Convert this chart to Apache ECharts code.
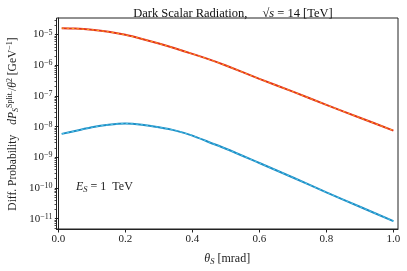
<!DOCTYPE html>
<html>
<head>
<meta charset="utf-8">
<script src="https://cdn.jsdelivr.net/npm/echarts@6/dist/echarts.min.js"></script>
<style>html,body{margin:0;padding:0;background:#fff}#c{width:407px;height:271px}</style>
</head>
<body>
<div id="c"></div>
<script>
// theta_S [mrad]
const thetaS = [0.01, 0.05, 0.1, 0.15, 0.2, 0.25, 0.3, 0.35, 0.4, 0.45, 0.5, 0.6, 0.7, 0.8, 0.9, 1.0];
// upper curve (red solid + orange dashed)
const upperVals = [1.62e-5, 1.57e-5, 1.43e-5, 1.23e-5, 9.8e-6, 7.2e-6, 5.1e-6, 3.5e-6, 2.35e-6, 1.55e-6, 9.8e-7, 3.6e-7, 1.38e-7, 5.1e-8, 1.95e-8, 7.4e-9];
// lower curve (blue solid + light blue dashed)
const lowerVals = [5.8e-9, 7.2e-9, 9.5e-9, 1.15e-8, 1.26e-8, 1.15e-8, 9.5e-9, 7.4e-9, 5.1e-9, 3.1e-9, 1.9e-9, 6.5e-10, 2.2e-10, 7.2e-11, 2.45e-11, 8.3e-12];
// tick labels
const xTicks = [0.0, 0.2, 0.4, 0.6, 0.8, 1.0];
const yExponents = [-11, -10, -9, -8, -7, -6, -5];

const yMajor = yExponents.map(e => Math.pow(10, e));
const yMinor = [];
for (let e = -12; e <= -5; e++) {
  for (let m = 2; m <= 9; m++) {
    const v = m * Math.pow(10, e);
    if (v > 4.6e-12 && v < 3.47e-5) yMinor.push(v);
  }
}
const pairs = vals => thetaS.map((x, i) => [x, vals[i]]);

const serif = 'Liberation Serif';
const chart = echarts.init(document.getElementById('c'), null, {renderer: 'canvas'});
const sup = {fontFamily: serif, fontSize: 8, verticalAlign: 'top', lineHeight: 12, color: '#222'};
chart.setOption({
  animation: false,
  backgroundColor: '#fff',
  title: {
    text: '{a|Dark Scalar Radiation,}   {a|√}{i|s}{a| = 14 [TeV]}',
    left: 228, top: 0, textAlign: 'center',
    textStyle: {
      fontWeight: 'normal',
      rich: {
        a: {fontFamily: serif, fontSize: 12.5, fontWeight: 'normal', color: '#111'},
        i: {fontFamily: serif, fontSize: 12.5, fontWeight: 'normal', fontStyle: 'italic', color: '#111'}
      }
    }
  },
  grid: {left: 56.5, right: 9, top: 18, bottom: 37, show: true, borderColor: '#222', borderWidth: 1, containLabel: false},
  xAxis: {
    type: 'value', min: -0.0055, max: 1.0137,
    axisLine: {show: true, lineStyle: {color: '#222', width: 1}},
    splitLine: {show: false},
    axisTick: {show: true, inside: false, length: 3.5, lineStyle: {color: '#222'}, customValues: xTicks},
    axisLabel: {customValues: xTicks, formatter: v => v.toFixed(1), fontFamily: serif, fontSize: 11, color: '#222', margin: 5},
    name: '{i|θ}{s|S}{a| [mrad]}', nameLocation: 'middle', nameGap: 22,
    nameTextStyle: {rich: {
      a: {fontFamily: serif, fontSize: 12, color: '#222'},
      i: {fontFamily: serif, fontSize: 12, fontStyle: 'italic', color: '#222'},
      s: {fontFamily: serif, fontSize: 8.5, fontStyle: 'italic', color: '#222', verticalAlign: 'bottom', lineHeight: 15}
    }}
  },
  yAxis: [{
    type: 'log', logBase: 10, min: 4.6e-12, max: 3.47e-5,
    axisLine: {show: true, lineStyle: {color: '#222', width: 1}},
    splitLine: {show: false},
    minorTick: {show: false},
    axisTick: {show: true, inside: false, length: 3.5, lineStyle: {color: '#222'}, customValues: yMajor},
    axisLabel: {
      customValues: yMajor, margin: 4,
      formatter: v => '{b|10}{e|' + Math.round(Math.log10(v)).toString().replace('-', '−') + '}',
      rich: {b: {fontFamily: serif, fontSize: 11, color: '#222', lineHeight: 12}, e: sup}
    }
  }, {
    type: 'log', logBase: 10, min: 4.6e-12, max: 3.47e-5, position: 'left',
    axisLine: {show: false}, splitLine: {show: false}, axisLabel: {show: false},
    axisTick: {show: true, inside: false, length: 2, lineStyle: {color: '#222', width: 0.8}, customValues: yMinor}
  }],
  graphic: [{
    type: 'text', x: 13, y: 124, rotation: Math.PI / 2,
    style: {
      text: '{a|Diff. Probability}   {i|d}{i|P}{s|S}{u|Split.}{a|/}{i|θ}{u|2}{a| [GeV}{u|−1}{a|]}',
      align: 'center', verticalAlign: 'middle',
      rich: {
        a: {fontFamily: serif, fontSize: 11.5, fill: '#222', lineHeight: 14},
        i: {fontFamily: serif, fontSize: 11.5, fontStyle: 'italic', fill: '#222', lineHeight: 14},
        s: {fontFamily: serif, fontSize: 8, fontStyle: 'italic', fill: '#222', verticalAlign: 'bottom', lineHeight: 14},
        u: {fontFamily: serif, fontSize: 8, fill: '#222', verticalAlign: 'top', lineHeight: 14}
      }
    }
  }, {
    type: 'text', x: 76, y: 187,
    style: {
      text: '{i|E}{s|S}{a| = 1  TeV}',
      align: 'left', verticalAlign: 'middle',
      rich: {
        a: {fontFamily: serif, fontSize: 12, fill: '#222', lineHeight: 14},
        i: {fontFamily: serif, fontSize: 12, fontStyle: 'italic', fill: '#222', lineHeight: 14},
        s: {fontFamily: serif, fontSize: 8.5, fontStyle: 'italic', fill: '#222', verticalAlign: 'bottom', lineHeight: 14}
      }
    }
  }],
  series: [
    {type: 'line', data: pairs(upperVals), showSymbol: false, smooth: 0.3, lineStyle: {color: '#e2311d', width: 2}, z: 2},
    {type: 'line', data: pairs(upperVals), showSymbol: false, smooth: 0.3, lineStyle: {color: '#ffa51f', width: 1, type: [2.5, 2.5]}, z: 3},
    {type: 'line', data: pairs(lowerVals), showSymbol: false, smooth: 0.3, lineStyle: {color: '#1f8cc4', width: 2}, z: 2},
    {type: 'line', data: pairs(lowerVals), showSymbol: false, smooth: 0.3, lineStyle: {color: '#4cc6ea', width: 1, type: [2.5, 2.5]}, z: 3}
  ]
});
</script>
</body>
</html>
